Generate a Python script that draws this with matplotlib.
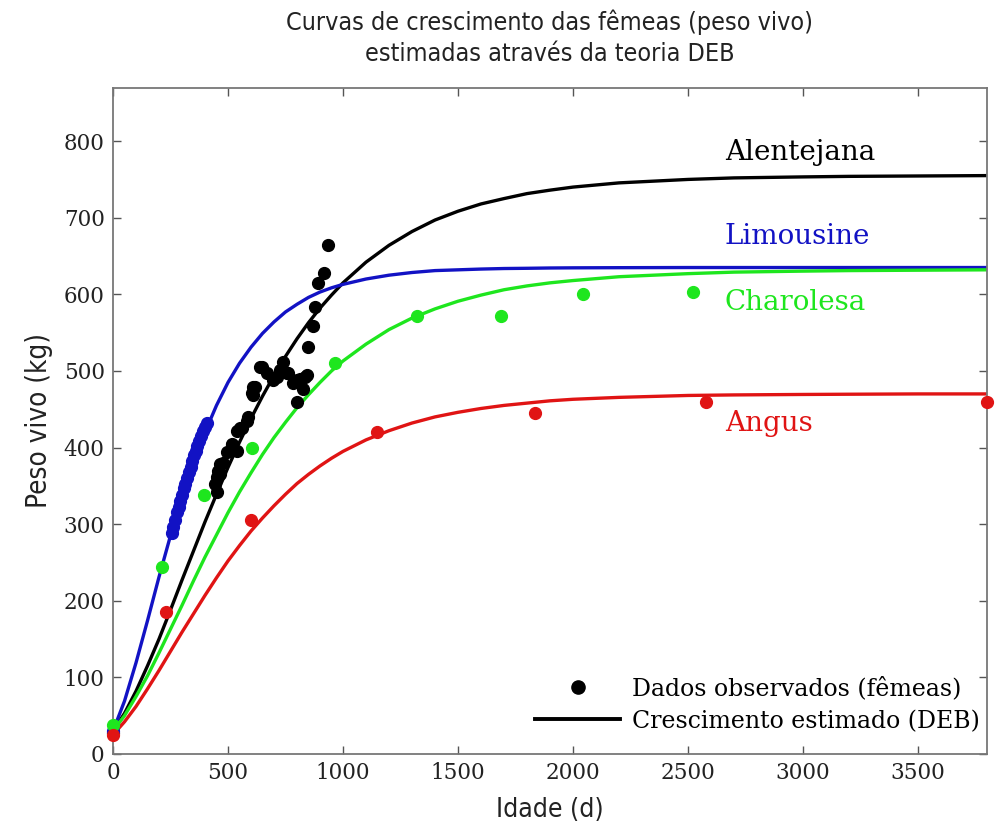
import numpy as np
import matplotlib.pyplot as plt
from matplotlib.lines import Line2D

# Observed female live weight (kg) against age (days)
ale_t = [0, 444, 453, 453, 457, 466, 466, 479, 496, 509, 518, 518, 540, 540, 553,
         561, 583, 588, 605, 610, 610, 618, 640, 649, 670, 697, 714, 727, 740, 757,
         762, 784, 801, 801, 814, 827, 836, 845, 849, 871, 879, 893, 919, 936]
ale_w = [28, 353, 342, 361, 370, 366, 379, 380, 394, 396, 405, 403, 396, 422, 426,
         426, 435, 440, 471, 479, 468, 479, 505, 505, 497, 488, 492, 501, 512, 497,
         497, 484, 488, 460, 490, 477, 492, 495, 531, 559, 583, 615, 628, 664]

lim_t = [0, 255, 262, 270, 278, 285, 292, 300, 308, 315, 322, 330, 337, 345,
         352, 360, 367, 375, 383, 392, 400, 410]
lim_w = [30, 289, 296, 306, 316, 322, 330, 338, 347, 353, 360, 368, 375, 382,
         390, 396, 402, 408, 415, 421, 427, 432]

cha_t = [0, 213, 396, 605, 966, 1323, 1685, 2043, 2521]
cha_w = [38, 244, 338, 400, 511, 572, 572, 601, 603]

ang_t = [0, 230, 600, 1149, 1833, 2580, 3800]
ang_w = [25, 185, 306, 420, 445, 459, 459]

# Estimated DEB growth curves
curve_t = [0, 50, 100, 150, 200, 250, 300, 350, 400, 450, 500, 550, 600, 650,
           700, 750, 800, 850, 900, 950, 1000, 1100, 1200, 1300, 1400, 1500,
           1600, 1700, 1800, 1900, 2000, 2200, 2500, 2700, 3000, 3200, 3500, 3800]
ale_fit = [30, 53, 82, 115, 150, 188, 227, 265, 303, 339, 374, 407, 438, 467,
           494, 519, 542, 563, 582, 599, 615, 642, 664, 682, 697, 708.5,
           718, 725, 731.5, 736, 740, 745.5, 750, 752, 753.3, 754, 754.5, 755]
lim_fit = [30, 69, 119, 174, 231, 285, 335, 380, 420, 455, 485, 510, 531, 549,
           564, 577, 587, 596, 603, 608.5, 613, 620, 625, 628.5, 631, 632,
           633, 633.7, 634, 634.4, 634.6, 634.8, 635, 635, 635, 635, 635, 635]
cha_fit = [30, 50, 75, 102, 132, 163, 194, 226, 257, 286, 315, 342, 367, 391,
           413, 433, 452, 469, 485, 500, 513, 535, 554, 569, 581, 591,
           599, 606, 611, 615, 618, 623, 627, 629, 630.3, 631, 631.5, 632]
ang_fit = [25, 42, 62, 85, 109, 134, 159, 183, 207, 230, 252, 272, 291, 308,
           324, 339, 353, 365, 376, 386, 395, 410, 422, 432, 440, 446,
           451, 455, 458, 461, 463, 465.5, 468, 468.7, 469.3, 469.6, 470, 470]

breeds = ['Alentejana', 'Limousine', 'Charolesa', 'Angus']
colors = ['black', '#1212c4', '#1ee61e', '#e01414']
label_y = [785, 675, 589, 431]

serif = ['DejaVu Serif']
narrow = ['DejaVu Sans']

fig = plt.figure(figsize=(10, 8.31), dpi=100)
ax = fig.add_axes([0.113, 0.0927, 0.874, 0.802])

series = [(ale_t, ale_w, ale_fit), (lim_t, lim_w, lim_fit),
          (cha_t, cha_w, cha_fit), (ang_t, ang_w, ang_fit)]
for (t, w, fit), c in zip(series, colors):
    ax.plot(curve_t, fit, color=c, lw=2.4, zorder=2, solid_joinstyle='round')
    ax.plot(t, w, 'o', color=c, ms=8.5, mec=c, zorder=3, clip_on=False)

for name, c, y in zip(breeds, colors, label_y):
    ax.text(2660, y, name, color=c, fontsize=20, family=serif, va='center')

ax.set_xlim(0, 3800)
ax.set_ylim(0, 870)
ax.set_xticks(np.arange(0, 3501, 500))
ax.set_yticks(np.arange(0, 801, 100))
ax.tick_params(direction='in', length=6, width=1, color='#555555',
               top=True, right=True, labelsize=15.5, pad=6)
for lab in ax.get_xticklabels() + ax.get_yticklabels():
    lab.set_family(serif)
    lab.set_color('#222222')
for sp in ax.spines.values():
    sp.set_color('#777777')
    sp.set_linewidth(1.3)

ax.set_xlabel('Idade (d)', fontsize=19, family=narrow, fontstretch='condensed',
              color='#222222', labelpad=9)
ax.set_ylabel('Peso vivo (kg)', fontsize=20, family=narrow, fontstretch='condensed',
              color='#222222', labelpad=8)
ax.set_title('Curvas de crescimento das fêmeas (peso vivo)\nestimadas através da teoria DEB',
             fontsize=18, family=narrow, fontstretch='condensed', color='#222222',
             pad=19, linespacing=1.35)

handles = [Line2D([], [], color='black', marker='o', ls='none', ms=9.5),
           Line2D([], [], color='black', lw=2.8)]
ax.legend(handles, ['Dados observados (fêmeas)', 'Crescimento estimado (DEB)'],
          loc='lower right', bbox_to_anchor=(1.016, 0.0), frameon=False,
          prop={'family': serif, 'size': 17}, handlelength=3.6,
          handletextpad=0.5, borderaxespad=0.5, labelspacing=0.4)

fig.savefig('out.png', dpi=100)
